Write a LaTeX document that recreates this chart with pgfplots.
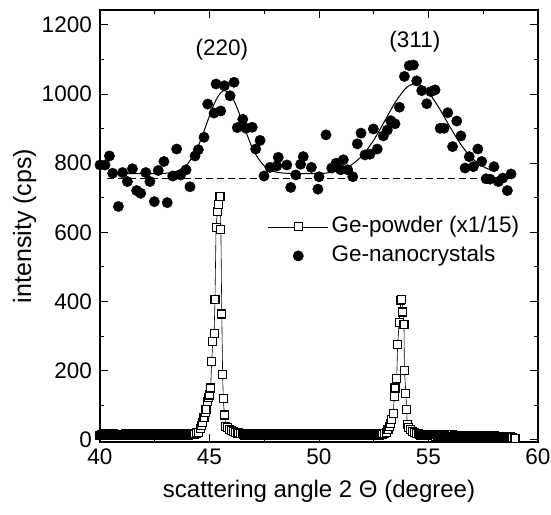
\documentclass[border=0pt]{standalone}
\usepackage{fontspec}
\setmainfont{Liberation Sans}
\usepackage{pgfplots}
\pgfplotsset{compat=1.18}
\newcommand{\bigfont}{\fontsize{22.5}{26}\selectfont}
\begin{document}
\begin{tikzpicture}
\begin{axis}[
  scale only axis, width=438pt, height=432pt,
  xmin=40, xmax=60, ymin=-6, ymax=1243,
  xtick={40,45,50,55,60}, ytick={0,200,400,600,800,1000,1200},
  minor x tick num=1, minor y tick num=1,
  tick align=inside,
  major tick length=8pt, minor tick length=4pt,
  axis line style={line width=1.2pt},
  every tick/.style={line width=1pt, black},
  /pgf/number format/assume math mode=true,
  /pgf/number format/1000 sep={},
  ticklabel style={font=\bigfont},
  xticklabel style={inner sep=0pt, yshift=-7pt},
  yticklabel style={inner sep=0pt, xshift=-8pt},
  xlabel style={font=\fontsize{24}{28}\selectfont, yshift=-11pt},
  ylabel style={font=\fontsize{25}{29}\selectfont, yshift=2pt},
  xlabel={scattering angle 2 Θ (degree)},
  ylabel={intensity (cps)},
  legend style={draw=none, fill=none, font=\bigfont, at={(axis cs:47.67,574)}, anchor=west,
    inner sep=0pt, outer sep=0pt, column sep=0pt, row sep=2pt,
    nodes={inner sep=3pt, text height=16pt, text depth=5pt}},
  legend cell align=left,
  legend image code/.code={\draw[mark repeat=2,mark phase=2,#1] plot coordinates {(0pt,0pt)(30pt,0pt)(60pt,0pt)};},
]
% fit baseline (dashed)
\addplot[forget plot, black, line width=1pt, dash pattern=on 7pt off 4pt] coordinates {(40.3,755) (58.85,755)};
% fit curve
\addplot[forget plot, black, line width=1pt, smooth] coordinates {
(40.4,770) (42,770) (43,771) (43.5,777) (44,798) (44.5,852) (45,937) (45.25,977) (45.5,1003) (45.7,1010)
(46,994) (46.25,962) (46.5,919) (47,838) (47.5,792) (48,775) (48.5,771) (49,770) (50,770)
(50.5,773) (51,781) (51.5,796) (52,824) (52.5,867) (53,922) (53.5,978) (54,1019) (54.4,1030)
(54.75,1021) (55,1006) (55.5,958) (56,903) (56.5,852) (57,814) (57.5,790) (58,777)};
% Ge powder
\addplot[black, line width=0.6pt, mark=square*, mark size=4pt,
  mark options={fill=white, line width=1.1pt, solid}] coordinates {
(40.00,14)(40.05,16)(40.10,13)(40.15,15)(40.20,12)(40.25,17)(40.30,14)(40.35,13)(40.40,16)(40.45,15)
(40.50,12)(40.55,14)(40.60,17)(40.65,13)(40.70,15)(40.75,16)(40.80,12)(40.85,14)(40.90,15)(40.95,13)
(41.00,16)(41.05,12)(41.10,14)(41.15,17)(41.20,13)(41.25,15)(41.30,14)(41.35,12)(41.40,16)(41.45,13)
(41.50,15)(41.55,17)(41.60,12)(41.65,14)(41.70,16)(41.75,13)(41.80,15)(41.85,12)(41.90,14)(41.95,17)
(42.00,13)(42.05,15)(42.10,16)(42.15,12)(42.20,14)(42.25,13)(42.30,17)(42.35,15)(42.40,12)(42.45,16)
(42.50,14)(42.55,13)(42.60,15)(42.65,17)(42.70,12)(42.75,14)(42.80,16)(42.85,13)(42.90,15)(42.95,12)
(43.00,14)(43.05,17)(43.10,13)(43.15,16)(43.20,15)(43.25,12)(43.30,14)(43.35,13)(43.40,17)(43.45,15)
(43.50,12)(43.55,16)(43.60,14)(43.65,13)(43.70,15)(43.75,17)(43.80,12)(43.85,14)(43.90,16)(43.95,13)
(44.00,15)(44.05,14)(44.10,16)(44.15,15)(44.20,17)(44.25,16)
(44.3,17) (44.4,20) (44.49,22) (44.57,34) (44.63,42) (44.69,50) (44.75,66)
(44.80,78) (44.84,89) (44.90,111) (44.95,122) (44.99,130) (45.05,150) (45.10,226) (45.15,284) (45.21,307) (45.25,405)
(45.30,615) (45.36,660) (45.40,680) (45.48,705) (45.52,609) (45.56,364) (45.60,188) (45.63,120) (45.68,72) (45.75,40)
(45.82,35) (45.90,30) (46.0,27) (46.1,24) (46.2,22) (46.3,20) (46.4,19) (46.5,18)
(46.55,16)(46.60,14)(46.65,17)(46.70,13)(46.75,15)(46.80,12)(46.85,16)(46.90,14)(46.95,13)
(47.00,15)(47.05,17)(47.10,12)(47.15,14)(47.20,16)(47.25,13)(47.30,15)(47.35,12)(47.40,14)(47.45,17)
(47.50,13)(47.55,15)(47.60,16)(47.65,12)(47.70,14)(47.75,13)(47.80,17)(47.85,15)(47.90,12)(47.95,16)
(48.00,14)(48.05,13)(48.10,15)(48.15,17)(48.20,12)(48.25,14)(48.30,16)(48.35,13)(48.40,15)(48.45,12)
(48.50,14)(48.55,17)(48.60,13)(48.65,16)(48.70,15)(48.75,12)(48.80,14)(48.85,13)(48.90,17)(48.95,15)
(49.00,12)(49.05,16)(49.10,14)(49.15,13)(49.20,15)(49.25,17)(49.30,12)(49.35,14)(49.40,16)(49.45,13)
(49.50,15)(49.55,12)(49.60,14)(49.65,17)(49.70,13)(49.75,15)(49.80,16)(49.85,12)(49.90,14)(49.95,13)
(50.00,17)(50.05,15)(50.10,12)(50.15,16)(50.20,14)(50.25,13)(50.30,15)(50.35,17)(50.40,12)(50.45,14)
(50.50,16)(50.55,13)(50.60,15)(50.65,12)(50.70,14)(50.75,17)(50.80,13)(50.85,16)(50.90,15)(50.95,12)
(51.00,14)(51.05,13)(51.10,17)(51.15,15)(51.20,12)(51.25,16)(51.30,14)(51.35,13)(51.40,15)(51.45,17)
(51.50,12)(51.55,14)(51.60,16)(51.65,13)(51.70,15)(51.75,12)(51.80,14)(51.85,17)(51.90,13)(51.95,15)
(52.00,16)(52.05,12)(52.10,14)(52.15,13)(52.20,17)(52.25,15)(52.30,12)(52.35,16)(52.40,14)(52.45,13)
(52.50,15)(52.55,17)(52.60,14)(52.65,16)(52.70,15)(52.75,14)(52.80,16)(52.85,15)
(52.9,17) (53.0,19) (53.09,22) (53.15,30) (53.21,38) (53.27,48) (53.32,58)
(53.39,77) (53.44,125) (53.47,150) (53.55,178) (53.59,275) (53.66,340) (53.74,402) (53.78,405) (53.83,370) (53.88,335)
(53.90,202) (53.97,133) (54.00,87) (54.03,45) (54.10,35) (54.16,29) (54.25,24) (54.35,21) (54.45,19) (54.55,18)
(54.60,16)(54.65,14)(54.70,15)(54.75,13)(54.80,16)(54.85,12)(54.90,14)(54.95,15)
(55.00,13)(55.05,16)(55.10,12)(55.15,14)(55.20,15)(55.25,13)(55.30,11)(55.35,15)(55.40,13)(55.45,14)
(55.50,12)(55.55,15)(55.60,13)(55.65,11)(55.70,14)(55.75,12)(55.80,15)(55.85,13)(55.90,11)(55.95,14)
(56.00,12)(56.05,13)(56.10,15)(56.15,11)(56.20,13)(56.25,12)(56.30,14)(56.35,11)(56.40,13)(56.45,12)
(56.50,14)(56.55,11)(56.60,13)(56.65,12)(56.70,10)(56.75,13)(56.80,12)(56.85,14)(56.90,11)(56.95,12)
(57.00,13)(57.05,10)(57.10,12)(57.15,11)(57.20,13)(57.25,10)(57.30,12)(57.35,11)(57.40,13)(57.45,10)
(57.50,12)(57.55,11)(57.60,9)(57.65,12)(57.70,11)(57.75,10)(57.80,12)(57.85,9)(57.90,11)(57.95,10)
(58.00,12)(58.05,9)(58.10,11)(58.15,10)(58.20,9)(58.25,11)(58.30,10)(58.35,8)(58.40,10)(58.45,9)
(58.50,11)(58.55,8)(58.60,10)(58.65,9)(58.70,8)(58.75,10)(58.80,8)(58.85,7)(58.95,5)};
\addlegendentry{Ge-powder (x1/15)}
% Ge nanocrystals
\addplot[only marks, mark=*, mark size=5.2pt, black] coordinates {
(40.00,795) (40.23,795) (40.43,821) (40.58,771) (40.84,675) (41.03,773) (41.25,747) (41.48,784) (41.67,721) (41.86,713)
(42.09,773) (42.28,747) (42.48,689) (42.66,779) (42.92,805) (43.07,686) (43.32,763) (43.50,841) (43.68,766) (43.93,781)
(44.11,732) (44.34,821) (44.49,839) (44.75,875) (44.92,971) (45.21,945) (45.30,1029) (45.51,951) (45.68,1024) (45.94,995)
(46.12,1034) (46.27,903) (46.52,927) (46.67,901) (46.95,904) (47.11,841) (47.31,866) (47.49,763) (47.76,788) (48.07,792)
(48.14,817) (48.53,795) (48.71,730) (48.94,766) (49.16,797) (49.28,819) (49.65,788) (50.00,761) (49.95,725) (50.32,882)
(50.58,786) (50.78,800) (50.99,781) (51.11,810) (51.31,781) (51.54,761) (51.75,856) (51.92,887) (52.10,824) (52.33,826)
(52.48,899) (52.66,841) (52.94,879) (53.12,896) (53.27,923) (53.47,914) (53.67,962) (53.90,1051) (54.12,1082) (54.31,1084)
(54.46,1038) (54.69,1010) (54.92,972) (55.11,1007) (55.30,1012) (55.53,901) (55.71,901) (55.88,946) (56.10,848) (56.29,922)
(56.48,879) (56.67,786) (56.86,819) (57.05,790) (57.25,841) (57.43,805) (57.63,755) (57.81,754) (57.99,790) (58.19,747)
(58.39,757) (58.60,721) (58.77,769)};
\addlegendentry{Ge-nanocrystals}
\node[font=\bigfont] at (axis cs:45.57,1128) {(220)};
\node[font=\bigfont] at (axis cs:54.38,1151) {(311)};
\end{axis}
\pgfresetboundingbox
\path[use as bounding box] (current axis.south west) ++(-100pt,-72pt) rectangle ++(551pt,514pt);
\end{tikzpicture}
\end{document}
